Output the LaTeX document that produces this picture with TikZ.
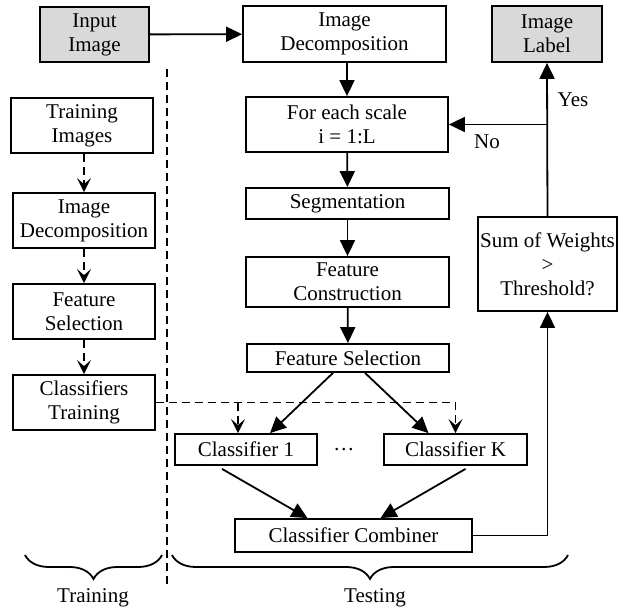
\documentclass[tikz,border=0pt]{standalone}
\usepackage{fontspec}
\setmainfont{Liberation Serif}
\usetikzlibrary{positioning,arrows.meta,calc,decorations.pathreplacing}

\begin{document}
\begin{tikzpicture}[x=0.5pt,y=-0.5pt,font=\fontsize{10.5}{12}\selectfont,
  >={Triangle[length=8pt,width=7.5pt]},
  sz/.style 2 args={minimum width=#1*0.5pt,minimum height=#2*0.5pt},
  blk/.style={draw,line width=0.9pt,align=center,inner sep=0pt},
  endblk/.style={blk,fill=gray!30},
  flow/.style={->,line width=0.9pt},
  trainflow/.style={-{Stealth[length=7pt,width=7pt,inset=3pt]},line width=0.9pt,dash pattern=on 4pt off 2.5pt}]
  \useasboundingbox (0,0) rectangle (618,611);
  % testing column
  \node[endblk,sz={109}{55}] (inp) at (94.5,34.5) {Input\\Image};
  \node[blk,sz={203}{56}] (dec) at (344.5,34) {Image\\Decomposition};
  \node[endblk,sz={110}{56}] (lab) at (547,34) {Image\\Label};
  \node[blk,sz={202}{55}] (scl) at (347,124.5) {For each scale\\i = 1:L};
  \node[blk,sz={203}{31}] (seg) at (347.5,203.5) {Segmentation};
  \node[blk,sz={203}{50}] (con) at (347.5,282) {Feature\\Construction};
  \node[blk,sz={202}{28}] (sel) at (348,358) {Feature Selection};
  \node[blk,sz={139}{94}] (sum) at (547.5,264) {Sum of Weights\\>\\Threshold?};
  \node[blk,sz={142}{31}] (c1) at (246,449.5) {Classifier 1};
  \node[blk,sz={143}{31}] (ck) at (455.5,449.5) {Classifier K};
  \node (dots) at (344,450) {\dots};
  \node[blk,sz={237}{33}] (comb) at (353.5,535.5) {Classifier Combiner};
  % training column
  \node[blk,sz={142}{55}] (trn) at (82,125.5) {Training\\Images};
  \node[blk,sz={142}{55}] (tdec) at (84,220.5) {Image\\Decomposition};
  \node[blk,sz={142}{55}] (tsel) at (84,311.5) {Feature\\Selection};
  \node[blk,sz={142}{55}] (tcls) at (84,402.5) {Classifiers\\Training};
  % arrows
  \draw[flow] (inp) -- (dec);
  \draw[flow] (dec.south -| scl.north) -- (scl.north);
  \foreach \a/\b in {scl/seg,seg/con,con/sel}
    \draw[flow] (\a) -- (\b);
  \draw[flow] ($(sel.south)+(-15,0)$) -- ($(c1.north)+(24,0)$);
  \draw[flow] ($(sel.south)+(17,0)$) -- ($(ck.north)+(-27,0)$);
  \draw[flow] ($(c1.south)+(-24,3)$) -- ($(comb.north)+(-46,0)$);
  \draw[flow] ($(ck.south)+(10,3)$) -- ($(comb.north)+(27,0)$);
  \draw[flow] (comb.east) -| (sum.south);
  \draw[flow] (sum.north) -- (lab.south);
  \coordinate (br) at (sum.north |- scl.east);
  \draw[flow] (br) -- (scl.east);
  \node (yes) at (573,100) {Yes};
  \node (no) at (487,142) {No};
  \foreach \a/\b in {trn/tdec,tdec/tsel,tsel/tcls}
    \draw[trainflow] (\b.north |- \a.south) -- (\b.north);
  \draw[trainflow] (tcls.east) -| (ck.north);
  \coordinate (c1in) at ($(c1.north)+(-8,0)$);
  \draw[trainflow] (c1in |- tcls.east) -- (c1in);
  % split and braces
  \draw[line width=0.9pt,dash pattern=on 4pt off 2.5pt] (167,69) -- (167,588);
  \draw[line width=0.9pt,decorate,decoration={brace,mirror,amplitude=12pt}] (25,555) -- (162,555);
  \draw[line width=0.9pt,decorate,decoration={brace,mirror,amplitude=12pt}] (172,555) -- (568,555);
  \node (trnlbl) at (93,598) {Training};
  \node (tstlbl) at (375,598) {Testing};
\end{tikzpicture}
\end{document}
